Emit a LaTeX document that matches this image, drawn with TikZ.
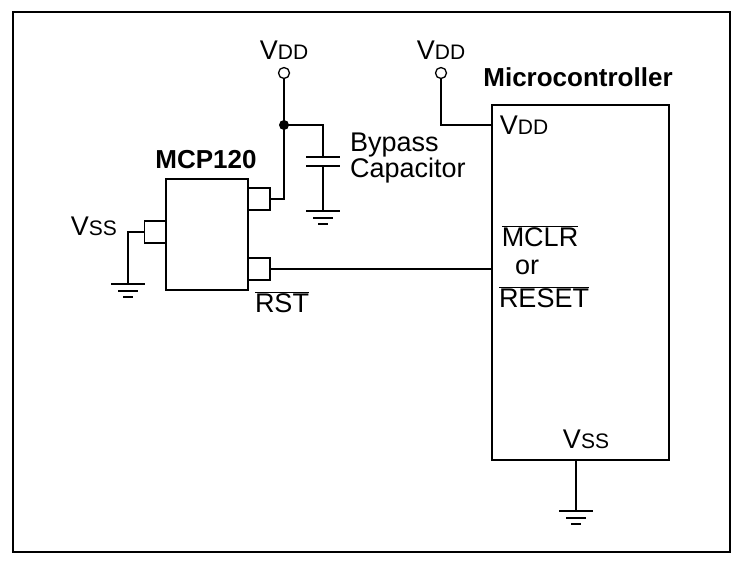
\documentclass[tikz,border=0pt]{standalone}
\usepackage{fontspec}
\setmainfont{Liberation Sans}
\usetikzlibrary{positioning}
\tikzset{
  wire/.style={line width=1.7pt},
  pin/.style={draw,line width=1.7pt,minimum width=22pt,minimum height=22pt,inner sep=0pt},
  term/.style={draw,circle,line width=1.3pt,minimum size=11pt,inner sep=0pt,fill=white},
  lbl/.style={font=\fontsize{27}{31}\selectfont,inner sep=0pt},
  bold/.style={font=\fontsize{26}{30}\selectfont\bfseries,inner sep=0pt}
}
\newcommand{\vsub}[1]{V{\fontsize{21}{24}\selectfont #1}}
\begin{document}
\begin{tikzpicture}[x=1pt,y=-1pt]
  % border
  \draw[line width=1.4pt] (13,12) rectangle (730,552);
  \useasboundingbox (0,0) rectangle (743,565);
  % MCP120
  \draw[wire] (166,179) rectangle (248,290);
  \node[pin] (pvdd) at (259,199) {};
  \node[pin] (prst) at (259,269) {};
  \node[pin] (pvss) at (155.5,232) {};
  \node[bold] (mcp) at (206,160) {MCP120};
  \node[lbl] (rst) at (282,302) {$\overline{\mbox{RST}}$};
  \node[lbl,anchor=east] (vss1) at (117,226) {\vsub{SS}};
  % supply
  \node[term] (t1) at (284,73) {};
  \node[lbl] (vdd1) at (284,50) {\vsub{DD}};
  \coordinate (jn) at (284,125);
  \draw[wire] (pvdd.east) -| (jn) -- (t1);
  \fill (jn) circle (5);
  \coordinate (cap) at (323,125);
  \draw[wire] (jn) -- (cap) -- (323,157);
  \draw[wire] (306,157) -- (340,157) (306,166) -- (340,166);
  \draw[wire] (323,166) -- (323,211);
  \draw[wire] (306,211) -- (340,211) (313,218) -- (333,218) (318,224) -- (328,224);
  \node[lbl,anchor=west,align=left] (bp) at (350,158) {Bypass\\[-5pt]Capacitor};
  % left ground
  \draw[wire] (pvss.west) -| (128,284);
  \draw[wire] (111,284) -- (145,284) (118,291) -- (138,291) (123,297) -- (133,297);
  % microcontroller
  \draw[wire] (492,105) rectangle (669,460);
  \node[bold] (mc) at (578,77) {Microcontroller};
  \node[lbl] (vdd3) at (524,125) {\vsub{DD}};
  \node[term] (t2) at (441,73) {};
  \node[lbl] (vdd2) at (441,50) {\vsub{DD}};
  \draw[wire] (t2) |- (492,125);
  \node[lbl] (mclr) at (540,236) {$\overline{\mbox{MCLR}}$};
  \node[lbl] (or) at (527,267) {or};
  \node[lbl] (reset) at (544,297) {$\overline{\mbox{RESET}}$};
  \draw[wire] (prst.east) -- (492,269);
  \node[lbl] (vss2) at (586,439) {\vsub{SS}};
  \draw[wire] (576,460) -- (576,511);
  \draw[wire] (559,511) -- (593,511) (566,518) -- (586,518) (571,524) -- (581,524);
\end{tikzpicture}
\end{document}
